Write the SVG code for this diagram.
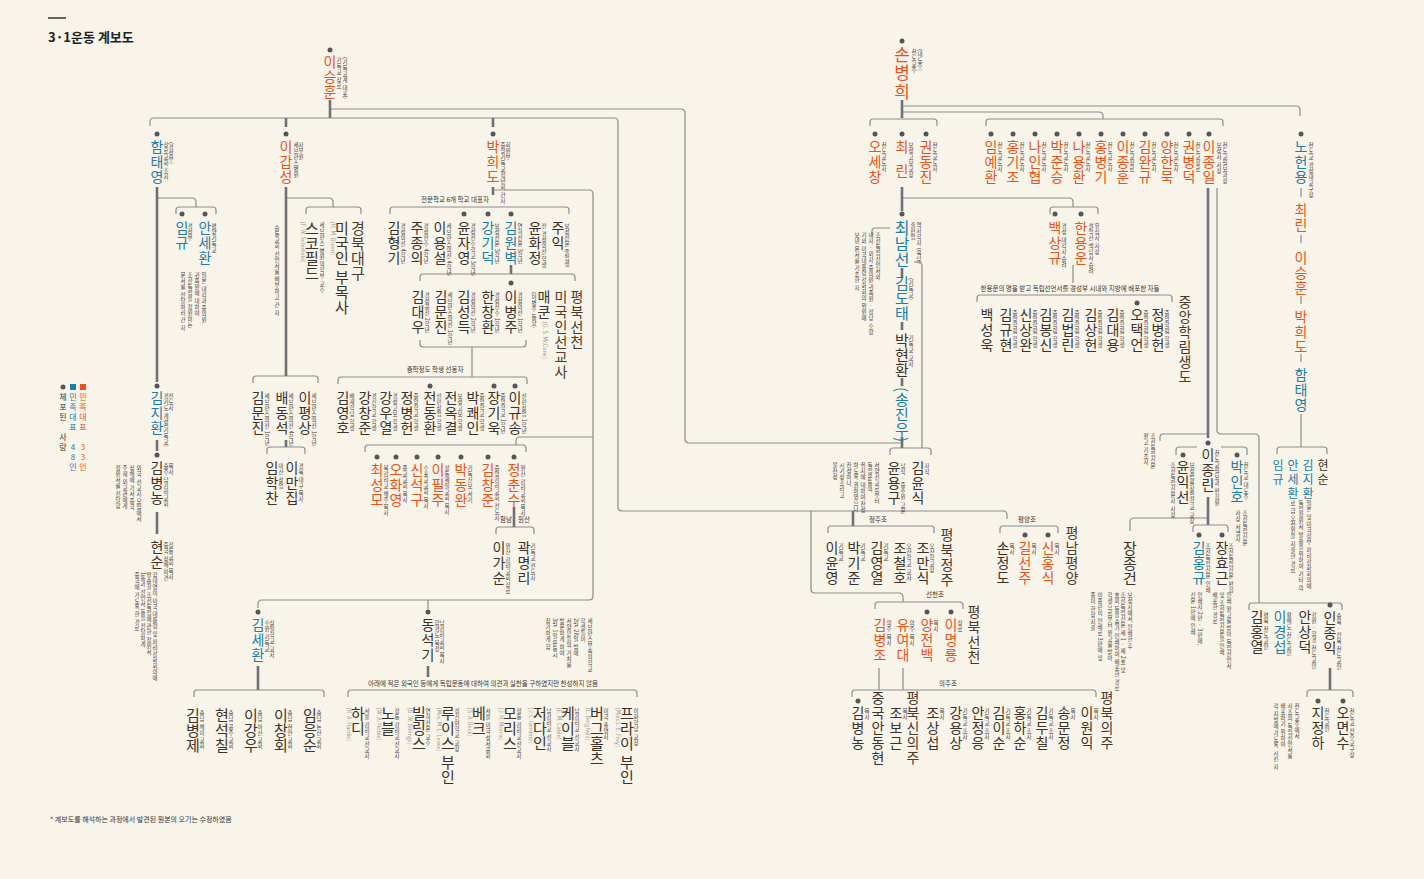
<svg xmlns="http://www.w3.org/2000/svg" width="1424" height="879" viewBox="0 0 1424 879">
<style>
text{font-family:"Noto Sans CJK KR","Noto Sans",sans-serif}
.v text{writing-mode:vertical-rl}
.nm{font-size:14px;letter-spacing:1px}
.nl{font-size:15px;letter-spacing:0px}
.o{fill:#e8531c}.b{fill:#1a7ea6}.d{fill:#3a322b}.p{fill:#4e3a2c}
.s{font-size:5.5px;fill:#4b423a;letter-spacing:.5px}
.g{font-size:5.5px;fill:#a09890}
.h{font-size:6.5px;fill:#3a322b;text-anchor:middle}
.ln{fill:none;stroke:#8c8c90;stroke-width:1.2}
.tk{fill:none;stroke:#707076;stroke-width:2.6}
.dt{fill:#55555a}
.up{text-orientation:upright}
</style>
<rect width="1424" height="879" fill="#f8f4e9"/>
<g id="title">
<line x1="48" y1="18" x2="66" y2="18" stroke="#333" stroke-width="1.5"/>
<text x="48" y="42" font-size="13" font-weight="700" fill="#222">3·1운동 계보도</text>
<text x="50" y="822" font-size="7" fill="#333">* 계보도를 해석하는 과정에서 발견된 원본의 오기는 수정하였음</text>
</g>
<g id="connectors">
<path class="ln" d="M330,109H681Q685,109 685,113V439Q685,443 689,443H902"/>
<path class="ln" d="M150,126V122Q150,118 154,118H614Q618,118 618,122V507Q618,511 622,511H1003Q1007,511 1007,515V519"/>
<path class="ln" d="M157,198H192Q196,198 196,202V207M176,214V210Q176,207 179,207H213Q216,207 216,210V214"/>
<path class="ln" d="M286,198H329Q333,198 333,202V207M306,214V210Q306,207 309,207H358Q361,207 361,210V214"/>
<path class="ln" d="M253,383V379Q253,376 256,376H315Q318,376 318,379V383"/>
<path class="ln" d="M267,454V450Q267,447 270,447H302Q305,447 305,450V454"/>
<path class="ln" d="M493,190H589Q593,190 593,194V596Q593,600 589,600H262Q258,600 258,604V608"/>
<path class="ln" d="M390,214V210Q390,207 393,207H566Q569,207 569,210V214"/>
<path class="ln" d="M420,281V277Q420,274 423,274H572Q575,274 575,277V281"/>
<path class="ln" d="M420,340V344Q420,347 423,347H523Q526,347 526,344V340M472,347V377"/>
<path class="ln" d="M338,384V380Q338,377 341,377H524Q527,377 527,380V384"/>
<path class="ln" d="M593,437H520Q516,437 516,441V445M365,452V448Q365,445 368,445H523Q526,445 526,448V452"/>
<path class="ln" d="M496,534V530Q496,527 499,527H531Q534,527 534,530V534"/>
<path class="ln" d="M428,600V609"/>
<path class="ln" d="M348,697V693Q348,690 351,690H634Q637,690 637,693V697"/>
<path class="ln" d="M194,697V693Q194,690 197,690H321Q324,690 324,693V697"/>
<path class="ln" d="M902,106H1296Q1300,106 1300,110V116M902,112H1099Q1103,112 1103,116V119"/>
<path class="ln" d="M870,126V122Q870,119 873,119H934Q937,119 937,122V126M986,126V122Q986,119 989,119H1220Q1223,119 1223,122V126"/>
<path class="ln" d="M902,198H1069Q1073,198 1073,202V207M1050,214V210Q1050,207 1053,207H1095Q1098,207 1098,210V214"/>
<path class="ln" d="M1073,265V283M977,302V298Q977,295 980,295H1169Q1172,295 1172,298V302"/>
<path class="ln" d="M872,236V231Q872,228 875,228H890M914,262H918Q922,262 922,266V448M890,455V451Q890,448 893,448H928Q931,448 931,451V455"/>
<path class="ln" d="M828,533V529Q828,526 831,526H931Q934,526 934,529V533M1000,533V529Q1000,526 1003,526H1055Q1058,526 1058,529V533"/>
<path class="ln" d="M811,511V589Q811,593 815,593H899Q903,593 903,597V602M875,609V605Q875,602 878,602H960Q963,602 963,605V609"/>
<path class="ln" d="M879,668V690M903,668V690M852,697V693Q852,690 855,690H1093Q1096,690 1096,693V697"/>
<path class="ln" d="M1217,188V430Q1217,434 1221,434H1255Q1259,434 1259,438V603M1160,441V437Q1160,434 1163,434H1208"/>
<path class="ln" d="M1176,455V450Q1176,447 1179,447H1197M1221,447H1244Q1247,447 1247,450V455"/>
<path class="ln" d="M1208,518H1134Q1130,518 1130,522V531M1193,532V528Q1193,525 1196,525H1225Q1228,525 1228,528V532"/>
<path class="ln" d="M1301,188V197M1301,235V243M1301,296V304M1301,354V362M1301,414V447M1277,454V450Q1277,447 1280,447H1324Q1327,447 1327,450V454"/>
<path class="ln" d="M1249,610V606Q1249,603 1252,603H1339Q1342,603 1342,606V610M1307,697V693Q1307,690 1310,690H1350Q1353,690 1353,693V697"/>
<path class="tk" d="M330,100V118M286,118V127M493,118V127M157,187V382M157,440V451M157,512V534M286,187V376M286,440V447M493,187V195M511,265V274M514,507V527M428,666V677M258,666V690"/>
<path class="tk" d="M902,100V118M902,187V211M902,268V278M902,322V330M902,378V386M902,437V448M853,511V526M1208,188V438M1208,497V525M1330,668V690"/>
</g>
<g id="legend" class="v">
<circle class="dt" cx="63" cy="387" r="2.5"/>
<rect x="70" y="384" width="6" height="6" fill="#1a7ea6"/>
<rect x="80" y="384" width="6" height="6" fill="#e8531c"/>
<text x="63" y="393" font-size="8" letter-spacing="2" class="d up">체포된 사람</text>
<text x="73" y="393" font-size="8" letter-spacing="2" class="b up">민족대표 48인</text>
<text x="83" y="393" font-size="8" letter-spacing="2" class="o up">민족대표 33인</text>
</g>
<g id="labels">
<text class="h" x="455" y="202">전문학교 6개 학교 대표자</text>
<text class="h" x="435" y="372">중학정도 학생 선동자</text>
<text class="h" x="506" y="522">함남</text>
<text class="h" x="524" y="522">원산</text>
<text class="h" x="483" y="686">아래에 적은 외국인 등에게 독립운동에 대하여 의견과 실천을 구하였지만 찬성하지 않음</text>
<text class="h" x="1070" y="291">한용운의 명을 받고 독립선언서를 경성부 시내와 지방에 배포한 자들</text>
<text class="h" x="878" y="522">정주조</text>
<text class="h" x="1027" y="522">평양조</text>
<text class="h" x="935" y="597">선천조</text>
<text class="h" x="948" y="686">의주조</text>
</g>
<g class="v">
<g id="n-leeseunghun"><circle class="dt" cx="330" cy="50" r="2.5"/><text class="nm o" x="330" y="55">이승훈</text><text class="s" x="339" y="57">기독교 장로</text><text class="s" x="345" y="57">(기독교계 대표)</text></g>
<g id="n-hamtaeyoung"><circle class="dt" cx="157" cy="134" r="2.5"/><text class="nm b" x="157" y="140">함태영</text><text class="s" x="166" y="142">장로교회 조사</text><text class="s" x="171" y="142">(경성부)</text></g>
<g id="n-imgyu"><circle class="dt" cx="182" cy="214" r="2.5"/><text class="nm b" x="182" y="221">임규</text><text class="s" x="190" y="223">경성부</text></g>
<g id="n-anseahwan"><circle class="dt" cx="205" cy="214" r="2.5"/><text class="nm b" x="205" y="221">안세환</text><text class="s" x="214" y="223">평양기독교</text>
<text class="s" x="204" y="272">일본 내각과 중의원</text><text class="s" x="197" y="272">귀족원에 대하여</text><text class="s" x="190" y="272">조선독립을 청원하는</text><text class="s" x="183" y="272">문서를 전달하러 간 자</text></g>
<g id="n-leegapsung"><circle class="dt" cx="286" cy="134" r="2.5"/><text class="nm o" x="286" y="140">이갑성</text><text class="s" x="296" y="142">세브란스병원</text><text class="s" x="301" y="142">사무원</text><text class="s" x="277" y="225">승동교회 선언서를 배부하고 간 자</text></g>
<g id="n-schofield"><text class="nl d" x="312" y="221">스코필드</text><text class="g" x="303" y="222">[F. W. Schofield]</text><text class="s" x="322" y="222">세브란스 병원 의학부 교수</text></g>
<g id="n-bumoksa"><text class="nl d" x="342" y="221">미국인 부목사</text><text class="g" x="333" y="222">[H. M. Bruen]</text></g>
<g id="n-daegu"><text class="nl p" x="358" y="221">경북대구</text></g>
<g id="n-kimmunjin1"><text class="nm d" x="258" y="391">김문진</text><text class="s" x="267" y="393">세브란스의전 1학년</text></g>
<g id="n-baedongseok"><text class="nm d" x="282" y="391">배동석</text><text class="s" x="291" y="393">세브란스의전 4학년</text></g>
<g id="n-leepyungsang"><text class="nm d" x="305" y="391">이평상</text><text class="s" x="314" y="393">세브란스의전 1학년</text></g>
<g id="n-imhakchan"><text class="nm d" x="272" y="461">임학찬</text><text class="s" x="281" y="463">마산 상업</text></g>
<g id="n-leemanjip"><text class="nm d" x="292" y="461">이만집</text><text class="s" x="301" y="463">경북 대구 목사</text></g>
<g id="n-kimjihwan"><circle class="dt" cx="157" cy="386" r="2.5"/><text class="nm b" x="157" y="391">김지환</text><text class="s" x="166" y="393">경기도 개성(기독교)</text><text class="s" x="171" y="393">전도사</text></g>
<g id="n-kimbyungnong"><circle class="dt" cx="157" cy="455" r="2.5"/><text class="nm d" x="157" y="461">김병농</text><text class="s" x="166" y="463">충주 남감리교회</text><text class="s" x="171" y="463">목사</text>
<text class="s" x="139" y="465">외국 선교사 모임에서</text><text class="s" x="132" y="465">상해에 가서 중국</text><text class="s" x="125" y="465">주재 외교관에게</text><text class="s" x="118" y="465">청원서를 전달함</text></g>
<g id="n-hyunsoon"><text class="nm d" x="157" y="540">현순</text><text class="s" x="166" y="542">중국 상해 파견</text><text class="s" x="171" y="542">정동교회 목사</text>
<text class="s" x="155" y="572">함태영이 미국 대통령 및 파리강화회의에</text><text class="s" x="149" y="572">발송할 조선독립에 관한 청원서</text><text class="s" x="143" y="572">1통과 선언서 등을 전달하게</text><text class="s" x="137" y="572">중국에 가도록 한 경로</text></g>
<g id="n-kimsehwan"><circle class="dt" cx="258" cy="612" r="2.5"/><text class="nm b" x="258" y="618">김세환</text><text class="s" x="267" y="620">수원 기독교</text><text class="s" x="272" y="620">삼일학교 교사</text></g>
<g id="n-kimbyungje"><text class="nl d" x="193" y="708">김병제</text><text class="s" x="202" y="710">충남 해미 교회</text></g>
<g id="n-hyunseokchil"><text class="nl d" x="222" y="708">현석칠</text><text class="s" x="231" y="710">충남 공주 교회</text></g>
<g id="n-leegangwoo"><text class="nl d" x="251" y="708">이강우</text><text class="s" x="260" y="710">충남 아산 교회</text></g>
<g id="n-leechanghoe"><text class="nl d" x="281" y="708">이창회</text><text class="s" x="290" y="710">충남 천안 교회</text></g>
<g id="n-imeungsoon"><text class="nl d" x="310" y="708">임응순</text><text class="s" x="319" y="710">충남 논산 교회</text></g>
<g id="n-parkheedo"><circle class="dt" cx="493" cy="134" r="2.5"/><text class="nm o" x="493" y="140">박희도</text><text class="s" x="503" y="142">중앙기독교청년회 간사</text><text class="s" x="508" y="142">회원부</text></g>
<g id="n-kimhyunggi"><text class="nm d" x="394" y="221">김형기</text><text class="s" x="403" y="223">경성의전 4학년</text></g>
<g id="n-jujongui"><text class="nm d" x="417" y="221">주종의</text><text class="s" x="426" y="223">경성전수 4학년</text></g>
<g id="n-leeyongseol"><text class="nm d" x="440" y="221">이용설</text><text class="s" x="449" y="223">세브란스의전 4학년</text></g>
<g id="n-yunjayoung"><circle class="dt" cx="464" cy="214" r="2.5"/><text class="nm d" x="464" y="221">윤자영</text><text class="s" x="473" y="223">경성전수학교 3학년</text></g>
<g id="n-kanggideok"><circle class="dt" cx="488" cy="214" r="2.5"/><text class="nm b" x="488" y="221">강기덕</text><text class="s" x="497" y="223">보성전문 3학년</text></g>
<g id="n-kimwonbyuk"><circle class="dt" cx="511" cy="214" r="2.5"/><text class="nm b" x="511" y="221">김원벽</text><text class="s" x="520" y="223">연희전문 3학년</text></g>
<g id="n-yunhwajung"><text class="nm d" x="535" y="221">윤화정</text><text class="s" x="544" y="223">전 경성의전 학생</text></g>
<g id="n-juik"><text class="nm d" x="558" y="221">주익</text><text class="s" x="567" y="223">보성전문 졸업생</text></g>
<g id="n-kimdaewoo"><text class="nm d" x="418" y="290">김대우</text><text class="s" x="427" y="292">경성공전 2학년</text></g>
<g id="n-kimmunjin2"><text class="nm d" x="441" y="290">김문진</text><text class="s" x="450" y="292">세브란스의전 1학년</text></g>
<g id="n-kimsungdeuk"><text class="nm d" x="464" y="290">김성득</text><text class="s" x="473" y="292">경성의전 2학년</text></g>
<g id="n-hanchanghwan"><text class="nm d" x="488" y="290">한창환</text><text class="s" x="497" y="292">경성전수 1학년</text></g>
<g id="n-leebyungju"><circle class="dt" cx="511" cy="283" r="2.5"/><text class="nm d" x="511" y="290">이병주</text><text class="s" x="520" y="292">경성의전 1학년</text></g>
<g id="n-mccune"><text class="nm d" x="544" y="290">매쿤</text><text class="s" x="534" y="292">(이병주 동향)</text><text class="g" x="545" y="322">[G. S. McCune]</text></g>
<g id="n-seongyosa"><text class="nm p" x="561" y="290">미국인선교사</text></g>
<g id="n-seoncheon1"><text class="nm p" x="577" y="290">평북선천</text></g>
<g id="n-kimyoungho"><text class="nm d" x="343" y="391">김영호</text><text class="s" x="352" y="393">배재학당 학생</text></g>
<g id="n-kangchangjun"><text class="nm d" x="365" y="391">강창준</text><text class="s" x="374" y="393">경신학교 학생</text></g>
<g id="n-kangwooyeol"><text class="nm d" x="386" y="391">강우열</text><text class="s" x="395" y="393">경성고보 학생</text></g>
<g id="n-jungbyunghun1"><text class="nm d" x="407" y="391">정병헌</text><text class="s" x="416" y="393">중앙학교 학생</text></g>
<g id="n-jeondonghwan"><circle class="dt" cx="430" cy="386" r="2.5"/><text class="nm d" x="430" y="391">전동환</text><text class="s" x="439" y="393">선린상업 학생</text></g>
<g id="n-jeonokgyeol"><text class="nm d" x="451" y="391">전옥결</text><text class="s" x="460" y="393">보성고보 학생</text></g>
<g id="n-parkkwaein"><text class="nm d" x="473" y="391">박쾌인</text><text class="s" x="482" y="393">중앙학교 학생</text></g>
<g id="n-janggiwook"><circle class="dt" cx="494" cy="386" r="2.5"/><text class="nm d" x="494" y="391">장기욱</text><text class="s" x="503" y="393">중앙학교 1학년</text></g>
<g id="n-leegyusong"><circle class="dt" cx="515" cy="386" r="2.5"/><text class="nm d" x="515" y="391">이규송</text><text class="s" x="524" y="393">선린상업 1학년</text></g>
<g id="n-choisungmo"><circle class="dt" cx="377" cy="457" r="2.5"/><text class="nm o" x="377" y="463">최성모</text><text class="s" x="386" y="465">북감리교 해주 목사</text></g>
<g id="n-ohwayoung"><circle class="dt" cx="396" cy="457" r="2.5"/><text class="nm o" x="396" y="463">오화영</text><text class="s" x="405" y="465">종교교회 목사</text></g>
<g id="n-sinseokgu"><circle class="dt" cx="417" cy="457" r="2.5"/><text class="nm o" x="417" y="463">신석구</text><text class="s" x="426" y="465">수표교교회 목사</text></g>
<g id="n-leepilju"><circle class="dt" cx="438" cy="457" r="2.5"/><text class="nm o" x="438" y="463">이필주</text><text class="s" x="447" y="465">정동제일교회 목사</text></g>
<g id="n-parkdongwan"><circle class="dt" cx="461" cy="457" r="2.5"/><text class="nm o" x="461" y="463">박동완</text><text class="s" x="470" y="465">기독신보 서기</text></g>
<g id="n-kimchangjun"><circle class="dt" cx="488" cy="457" r="2.5"/><text class="nm o" x="488" y="463">김창준</text><text class="s" x="497" y="465">중앙감리교회 전도사</text></g>
<g id="n-jungchunsoo"><circle class="dt" cx="514" cy="457" r="2.5"/><text class="nm o" x="514" y="463">정춘수</text><text class="s" x="523" y="465">원산 감리교회 목사</text></g>
<g id="n-leegasoon"><text class="nm d" x="499" y="541">이가순</text><text class="s" x="508" y="543">원산 감리교회 장로</text></g>
<g id="n-kwakmyungri"><text class="nm d" x="524" y="541">곽명리</text><text class="s" x="533" y="543">기독교 전도사</text></g>
<g id="n-dongseokgi"><circle class="dt" cx="428" cy="612" r="2.5"/><text class="nm d" x="428" y="618">동석기</text><text class="s" x="437" y="620">함경도 북청</text><text class="s" x="442" y="620">남감리교회 목사</text></g>
<g id="n-note593"><text class="s" x="590" y="618">세브란스부속의학교</text><text class="s" x="583" y="618">학생들이</text><text class="s" x="576" y="618">2월 28일 밤에</text><text class="s" x="569" y="618">서양인들의 거처를</text><text class="s" x="562" y="618">방문하게 하여</text><text class="s" x="555" y="618">3월 1일 운동시</text><text class="s" x="548" y="618">참가하게 함</text></g>
<g id="n-hardie"><text class="nl d" x="358" y="706">하디</text><text class="s" x="367" y="708">서울 감리교 선교사</text><text class="g" x="349" y="708">[R. A. Hardie]</text></g>
<g id="n-noble"><text class="nl d" x="388" y="706">노블</text><text class="s" x="397" y="708">정동 감리교 선교사</text><text class="g" x="379" y="708">[W. A. Noble]</text></g>
<g id="n-billings"><text class="nl d" x="419" y="706">빌링스</text><text class="s" x="428" y="708">연희전문 교수</text><text class="g" x="410" y="708">[B. W. Billings]</text></g>
<g id="n-lewis"><text class="nl d" x="448" y="706">루이스 부인</text><text class="s" x="457" y="708">정신여학교 교장</text><text class="g" x="439" y="708">[Mrs. M. L. Lewis]</text></g>
<g id="n-beck"><text class="nl d" x="479" y="706">베크</text><text class="s" x="488" y="708">서울 미국 성서공회</text><text class="g" x="470" y="708">[S. A. Beck]</text></g>
<g id="n-morris"><text class="nl d" x="510" y="706">모리스</text><text class="s" x="519" y="708">정동 감리교 선교사</text><text class="g" x="501" y="708">[J. H. Morris]</text></g>
<g id="n-gerdine"><text class="nl d" x="540" y="706">저다인</text><text class="s" x="549" y="708">남감리교 선교사</text><text class="g" x="531" y="708">[J. L. Gerdine]</text></g>
<g id="n-cable"><text class="nl d" x="568" y="706">케이블</text><text class="s" x="577" y="708">남감리교 선교사</text><text class="g" x="559" y="708">[E. M. Cable]</text></g>
<g id="n-bergholz"><text class="nl d" x="597" y="706">버그홀츠</text><text class="s" x="606" y="708">미국 총영사</text><text class="g" x="588" y="708">[L. Bergholz]</text></g>
<g id="n-frey"><text class="nl d" x="627" y="706">프라이 부인</text><text class="s" x="636" y="708">이화학당 교장</text><text class="g" x="618" y="708">[Miss L. E. Frey]</text></g>
<g id="n-sonbyunghee"><circle class="dt" cx="902" cy="41" r="2.5"/><text class="o" x="902" y="46" font-size="17" letter-spacing="1.5">손병희</text><text class="s" x="914" y="49">천도교주</text><text class="s" x="920" y="49">(대도주)</text></g>
<g id="n-ohsechang"><circle class="dt" cx="875" cy="134" r="2.5"/><text class="nm o" x="875" y="140">오세창</text><text class="s" x="884" y="142">천도교도사</text></g>
<g id="n-choirin"><circle class="dt" cx="902" cy="134" r="2.5"/><text class="nm o" x="902" y="140">최</text><text class="nm o" x="902" y="164">린</text><text class="s" x="911" y="142">보성고보교장</text></g>
<g id="n-kwondongjin"><circle class="dt" cx="926" cy="134" r="2.5"/><text class="nm o" x="926" y="140">권동진</text><text class="s" x="935" y="142">천도교도사</text></g>
<g id="n-imyehwan"><circle class="dt" cx="991" cy="134" r="2.5"/><text class="nm o" x="991" y="140">임예환</text><text class="s" x="1000" y="142">천도교도사</text></g>
<g id="n-honggijo"><circle class="dt" cx="1013" cy="134" r="2.5"/><text class="nm o" x="1013" y="140">홍기조</text><text class="s" x="1022" y="142">천도교도사</text></g>
<g id="n-nainhyup"><circle class="dt" cx="1035" cy="134" r="2.5"/><text class="nm o" x="1035" y="140">나인협</text><text class="s" x="1044" y="142">천도교도사</text></g>
<g id="n-parkjunseung"><circle class="dt" cx="1057" cy="134" r="2.5"/><text class="nm o" x="1057" y="140">박준승</text><text class="s" x="1066" y="142">천도교도사</text></g>
<g id="n-nayonghwan"><circle class="dt" cx="1079" cy="134" r="2.5"/><text class="nm o" x="1079" y="140">나용환</text><text class="s" x="1088" y="142">천도교도사</text></g>
<g id="n-hongbyunggi"><circle class="dt" cx="1101" cy="134" r="2.5"/><text class="nm o" x="1101" y="140">홍병기</text><text class="s" x="1110" y="142">천도교도사</text></g>
<g id="n-leejonghoon"><circle class="dt" cx="1123" cy="134" r="2.5"/><text class="nm o" x="1123" y="140">이종훈</text><text class="s" x="1132" y="142">천도교장로</text></g>
<g id="n-kimwangyu"><circle class="dt" cx="1145" cy="134" r="2.5"/><text class="nm o" x="1145" y="140">김완규</text><text class="s" x="1154" y="142">천도교도사</text></g>
<g id="n-yanghanmuk"><circle class="dt" cx="1167" cy="134" r="2.5"/><text class="nm o" x="1167" y="140">양한묵</text><text class="s" x="1176" y="142">천도교도사</text></g>
<g id="n-kwonbyungdeok"><circle class="dt" cx="1189" cy="134" r="2.5"/><text class="nm o" x="1189" y="140">권병덕</text><text class="s" x="1198" y="142">천도교장로</text></g>
<g id="n-leejongil"><circle class="dt" cx="1209" cy="134" r="2.5"/><text class="nm o" x="1209" y="140">이종일</text><text class="s" x="1219" y="142">보성사 사장</text><text class="s" x="1225" y="142">천도교월보과장</text></g>
<g id="n-baeksanggyu"><circle class="dt" cx="1055" cy="214" r="2.5"/><text class="nm o" x="1055" y="221">백상규</text><text class="s" x="1064" y="223">경성 대각사 승려</text></g>
<g id="n-hanyongwoon"><circle class="dt" cx="1081" cy="214" r="2.5"/><text class="nm o" x="1081" y="221">한용운</text><text class="s" x="1091" y="223">설악산 백담사 승려</text><text class="s" x="1097" y="223">유심사 사장</text></g>
<g id="n-baeksungwook"><text class="nm d" x="987" y="308">백성욱</text></g>
<g id="n-kimgyuhyun"><text class="nm d" x="1006" y="308">김규현</text><text class="s" x="1015" y="310">중앙학림 학생</text></g>
<g id="n-sinsangwan"><text class="nm d" x="1026" y="308">신상완</text><text class="s" x="1035" y="310">중앙학림 학생</text></g>
<g id="n-kimbongsin"><text class="nm d" x="1046" y="308">김봉신</text><text class="s" x="1055" y="310">중앙학림 학생</text></g>
<g id="n-kimbeoprin"><text class="nm d" x="1068" y="308">김법린</text><text class="s" x="1077" y="310">중앙학림 학생</text></g>
<g id="n-kimsanghun"><text class="nm d" x="1091" y="308">김상헌</text><text class="s" x="1100" y="310">중앙학림 학생</text></g>
<g id="n-kimdaeyong"><text class="nm d" x="1113" y="308">김대용</text><text class="s" x="1122" y="310">중앙학림 학생</text></g>
<g id="n-ohtaekeon"><circle class="dt" cx="1137" cy="303" r="2.5"/><text class="nm d" x="1137" y="308">오택언</text><text class="s" x="1146" y="310">중앙학림 학생</text></g>
<g id="n-jungbyunghun2"><text class="nm d" x="1158" y="308">정병헌</text><text class="s" x="1167" y="310">중앙학림 학생</text></g>
<g id="n-junganghakrim"><text class="nm p" x="1185" y="295">중앙학림생도</text></g>
<g id="n-choinamsun"><circle class="dt" cx="902" cy="214" r="2.5"/><text class="b" x="902" y="220" font-size="16">최남선</text><text class="s" x="913" y="222">출판업</text><text class="s" x="919" y="222">역사학자 (육당)</text>
<text class="s" x="878" y="232">조선독립선언서와</text><text class="s" x="871" y="232">내자 · 외자 중의원 귀족원 · 정당 수령</text><text class="s" x="864" y="232">기와 미국대통령 강화회의 위원에</text><text class="s" x="857" y="232">보낸 문서를 기초한 자</text></g>
<g id="n-kimdotae"><text class="nl b" x="902" y="276">김도태</text><text class="s" x="911" y="278">(기독교)</text></g>
<g id="n-parkhyunhwan"><text class="nl d" x="902" y="333">박현환</text><text class="s" x="911" y="335">기독교 교사</text></g>
<g id="n-songjinwoo"><text class="nl b" x="902" y="387">(송진우)</text></g>
<g id="n-yunyonggu"><text class="nm d" x="894" y="461">윤용구</text><text class="s" x="903" y="463">남작 · 중추원 고문</text>
<text class="s" x="877" y="462">서양선교로부터</text><text class="s" x="870" y="462">독립운동의</text><text class="s" x="863" y="462">취지에 대하여 찬성</text><text class="s" x="856" y="462">하도록 권하였으나</text><text class="s" x="849" y="462">찬성하나</text><text class="s" x="842" y="462">시기상조라고</text><text class="s" x="835" y="462">불찬성</text></g>
<g id="n-kimyunsik"><text class="nm d" x="918" y="461">김윤식</text><text class="s" x="927" y="463">자작</text></g>
<g id="n-leeyunyoung"><text class="nm d" x="832" y="541">이윤영</text><text class="s" x="841" y="543">기독교</text></g>
<g id="n-parkgijun"><text class="nm d" x="854" y="541">박기준</text><text class="s" x="863" y="543">기독교</text></g>
<g id="n-kimyoungyeol"><text class="nm d" x="877" y="541">김영열</text><text class="s" x="886" y="543">기독교</text></g>
<g id="n-jochulho"><text class="nm d" x="900" y="541">조철호</text><text class="s" x="909" y="543">오산학교 교사</text></g>
<g id="n-jomansik"><text class="nm d" x="923" y="541">조만식</text><text class="s" x="932" y="543">오산학교장</text></g>
<g id="n-jeongju"><text class="nm p" x="947" y="528">평북정주</text></g>
<g id="n-sonjungdo"><text class="nm d" x="1003" y="541">손정도</text><text class="s" x="1012" y="543">목사</text></g>
<g id="n-gilseonju"><circle class="dt" cx="1025" cy="535" r="2.5"/><text class="nm o" x="1025" y="541">길선주</text><text class="s" x="1034" y="543">목사</text></g>
<g id="n-sinhongsik"><circle class="dt" cx="1048" cy="535" r="2.5"/><text class="nm o" x="1048" y="541">신홍식</text><text class="s" x="1057" y="543">목사</text></g>
<g id="n-pyongyang"><text class="nm p" x="1072" y="526">평남평양</text></g>
<g id="n-kimbyungjo"><text class="nm o" x="880" y="618">김병조</text><text class="s" x="889" y="620">의주 목사</text></g>
<g id="n-yuyeodae"><text class="nm o" x="903" y="618">유여대</text><text class="s" x="912" y="620">의주 목사</text></g>
<g id="n-yangjeonbaek"><circle class="dt" cx="927" cy="612" r="2.5"/><text class="nm o" x="927" y="618">양전백</text><text class="s" x="936" y="620">목사</text></g>
<g id="n-leemyungryong"><circle class="dt" cx="951" cy="612" r="2.5"/><text class="nm o" x="951" y="618">이명룡</text><text class="s" x="960" y="620">장로</text></g>
<g id="n-seoncheon2"><text class="nm p" x="974" y="605">평북선천</text></g>
<g id="n-kimbyungnong2"><circle class="dt" cx="858" cy="701" r="2.5"/><text class="nm d" x="858" y="706">김병농</text><text class="s" x="867" y="708">목사</text></g>
<g id="n-andong"><text class="nm d" x="878" y="691">중국안동현</text></g>
<g id="n-jobogeun"><text class="nm d" x="896" y="706">조보근</text><text class="s" x="905" y="708">목사</text></g>
<g id="n-sinuiju"><text class="nm p" x="913" y="691">평북신의주</text></g>
<g id="n-josangseop"><text class="nm d" x="933" y="706">조상섭</text><text class="s" x="942" y="708">목사</text></g>
<g id="n-kangyongsang"><text class="nm d" x="956" y="706">강용상</text><text class="s" x="965" y="708">기독교 조사</text></g>
<g id="n-anjungeung"><text class="nm d" x="978" y="706">안정응</text><text class="s" x="987" y="708">기독교 조사</text></g>
<g id="n-kimisoon"><text class="nm d" x="999" y="706">김이순</text><text class="s" x="1008" y="708">기독교 조사</text></g>
<g id="n-honghasoon"><text class="nm d" x="1020" y="706">홍하순</text><text class="s" x="1029" y="708">기독교 조사</text></g>
<g id="n-kimduchil"><text class="nm d" x="1042" y="706">김두칠</text><text class="s" x="1051" y="708">기독교 조사</text></g>
<g id="n-songmunjung"><text class="nm d" x="1064" y="706">송문정</text><text class="s" x="1073" y="708">목사</text></g>
<g id="n-leewonik"><text class="nm d" x="1087" y="706">이원익</text><text class="s" x="1096" y="708">목사</text></g>
<g id="n-uiju"><text class="nm p" x="1107" y="691">평북의주</text></g>
<g id="n-leejongrin"><circle class="dt" cx="1208" cy="443" r="2.5"/><text class="nm d" x="1208" y="448">이종린</text><text class="s" x="1217" y="450">천도교월보과 편집원</text><text class="s" x="1153" y="433">조선독립신문</text><text class="s" x="1146" y="433">원고 기초자</text></g>
<g id="n-yunikseon"><circle class="dt" cx="1183" cy="455" r="2.5"/><text class="nm d" x="1183" y="460">윤익선</text><text class="s" x="1192" y="462">보성법률상업학교 교장</text><text class="s" x="1173" y="462">조선독립신문사 사장</text></g>
<g id="n-parkinho"><circle class="dt" cx="1237" cy="455" r="2.5"/><text class="nm b" x="1237" y="460">박인호</text><text class="s" x="1246" y="462">천도교 대도주</text><text class="s" x="1245" y="510">조선독립신문</text><text class="s" x="1238" y="510">사장 서명자</text></g>
<g id="n-kimhonggyu"><circle class="dt" cx="1199" cy="535" r="2.5"/><text class="nm b" x="1199" y="541">김홍규</text><text class="s" x="1208" y="543">조선독립신문 인쇄</text><text class="s" x="1200" y="592">인쇄자 2만 · 3만매,</text><text class="s" x="1193" y="592">신문 1만매 인쇄</text></g>
<g id="n-janghyogeun"><circle class="dt" cx="1222" cy="535" r="2.5"/><text class="nm d" x="1222" y="541">장효근</text><text class="s" x="1231" y="543">조선독립신문 편집</text><text class="s" x="1229" y="592">인쇄 원고를 받아 독립선언서</text><text class="s" x="1222" y="592">및 조선독립신문을 인쇄</text><text class="s" x="1215" y="592">배포한 경로</text></g>
<g id="n-jangjonggeon"><text class="nl d" x="1130" y="541">장종건</text>
<text class="s" x="1130" y="592">보성사에서 인쇄한 후</text><text class="s" x="1123" y="592">조선독립신문 제 1 · 제 2호 및</text><text class="s" x="1117" y="592">호외 등을 숨겨 인쇄하여 배포한 경로</text><text class="s" x="1110" y="592">학생으로부터 원고를 받아</text><text class="s" x="1100" y="592">이종린이 인쇄로 3만매 및</text><text class="s" x="1093" y="592">종이 한장 지출</text></g>
<g id="n-nohunyong"><circle class="dt" cx="1301" cy="134" r="2.5"/><text class="nm b" x="1301" y="140">노헌용</text><text class="s" x="1311" y="142">천도교 경성대교구장</text></g>
<g id="n-chain-choirin"><text class="nm o" x="1301" y="203">최린</text></g>
<g id="n-chain-leeseunghun"><text class="nm o" x="1301" y="251">이승훈</text></g>
<g id="n-chain-parkheedo"><text class="nm o" x="1301" y="310">박희도</text></g>
<g id="n-chain-hamtaeyoung"><text class="nm b" x="1301" y="368">함태영</text></g>
<g id="n-r-imgyu"><text class="b" x="1278" y="459" font-size="12" letter-spacing="2">임규</text></g>
<g id="n-r-anseahwan"><text class="b" x="1293" y="459" font-size="12" letter-spacing="2">안세환</text></g>
<g id="n-r-kimjihwan"><text class="b" x="1308" y="459" font-size="12" letter-spacing="2">김지환</text></g>
<g id="n-r-hyunsoon"><text class="d" x="1323" y="459" font-size="12" letter-spacing="2">현순</text></g>
<g id="n-r-note"><text class="s" x="1309" y="500">일본 및 미국정부 파리강화회의에</text><text class="s" x="1301" y="500">독립청원서 발송을 위하여 기타 의</text><text class="s" x="1293" y="500">로 금 오천원을 지출한 경로</text></g>
<g id="n-kimhongyeol"><text class="nm d" x="1257" y="610">김홍열</text><text class="s" x="1266" y="612">평북 천도교인</text></g>
<g id="n-leegyungseop"><text class="nm b" x="1280" y="610">이경섭</text><text class="s" x="1289" y="612">황해도 천도교인</text></g>
<g id="n-ansangdeok"><text class="nm d" x="1305" y="610">안상덕</text><text class="s" x="1314" y="612">강원 · 함경 천도교인</text></g>
<g id="n-injongik"><circle class="dt" cx="1330" cy="605" r="2.5"/><text class="nm d" x="1330" y="611">인종익</text><text class="s" x="1339" y="613">충북 · 전북 천도교인</text></g>
<g id="n-jijungha"><circle class="dt" cx="1318" cy="701" r="2.5"/><text class="nm d" x="1318" y="706">지정하</text><text class="s" x="1327" y="708">천도교인</text>
<text class="s" x="1297" y="703">천도교주에서</text><text class="s" x="1290" y="703">사조의 독립선언서를</text><text class="s" x="1283" y="703">배포하기 위하여</text><text class="s" x="1276" y="703">각 지방에 가도록 시킨 자</text></g>
<g id="n-ohmyunsoo"><circle class="dt" cx="1343" cy="701" r="2.5"/><text class="nm d" x="1343" y="706">오면수</text><text class="s" x="1352" y="708">천도교 전주교구장</text></g>
</g>
</svg>
